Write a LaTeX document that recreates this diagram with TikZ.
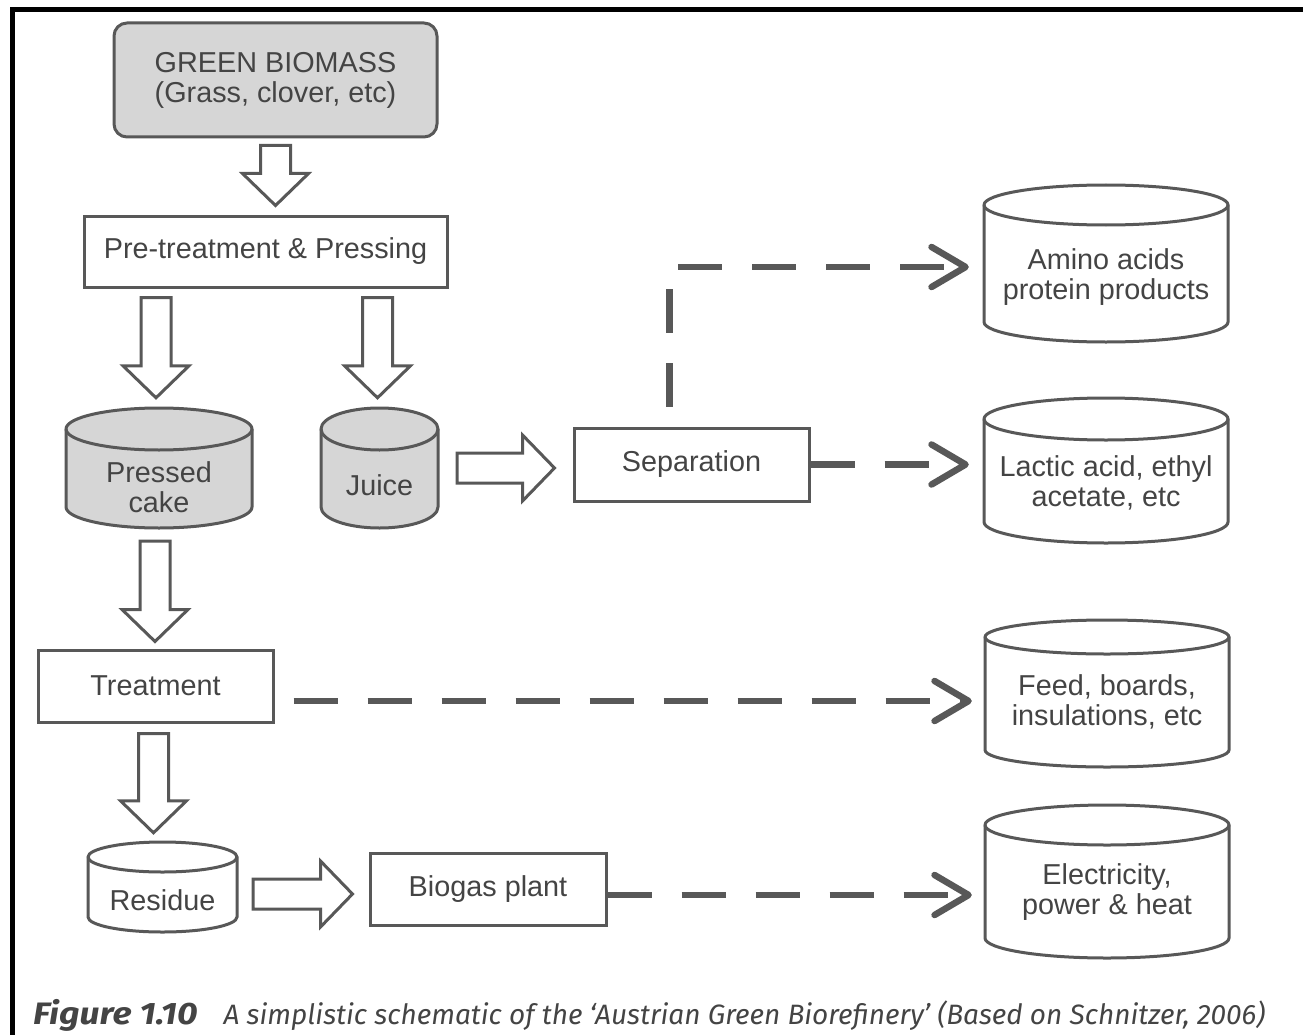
\documentclass[tikz,border=0pt]{standalone}
\usepackage{fontspec}
\setmainfont{Liberation Sans}
\newfontfamily\capfont{Fira Sans}
\usetikzlibrary{calc,arrows.meta}

\definecolor{lc}{HTML}{585858}
\definecolor{tc}{HTML}{444444}
\definecolor{shade}{HTML}{D6D6D6}

\tikzset{
  lbl/.style={text=tc, font=\fontsize{28.8}{30}\selectfont, align=center, inner sep=0pt},
  procbox/.style={lbl, draw=lc, line width=3pt},
  drumline/.style={draw=lc, line width=3pt},
  blockarrow/.style={draw=lc, line width=3pt, line join=miter, to path={
    let \p1=(\tikztostart), \p2=(\tikztotarget),
        \n1={atan2(\y2-\y1,\x2-\x1)}, \n2={veclen(\x2-\x1,\y2-\y1)} in
    {[shift={(\p1)}, rotate=\n1]
      (0pt,-15pt) -- ({\n2-32pt},-15pt) -- ({\n2-32pt},-33pt) -- (\n2,0pt)
      -- ({\n2-32pt},33pt) -- ({\n2-32pt},15pt) -- (0pt,15pt) -- cycle}
  }},
  dashline/.style={draw=lc, line width=6.8pt, dash pattern=on 44pt off 30pt,
    -{Straight Barb[length=34pt, width=40pt, line width=6.5pt, round]}}
}

% storage drum: name, left, right, top, bottom, ellipse radius, fill, label y, label
\newcommand\drum[9]{%
  \pgfmathsetmacro\dcx{(#2+#3)/2}%
  \pgfmathsetmacro\drx{(#3-#2)/2}%
  \pgfmathsetmacro\dkx{0.5523*\drx}%
  \pgfmathsetmacro\dky{0.5523*#6}%
  \pgfmathsetmacro\dyt{#4+#6}%
  \pgfmathsetmacro\dyb{#5-#6}%
  \filldraw[drumline, fill=#7] (#2,\dyt) -- (#2,\dyb)
    .. controls (#2,\dyb+\dky) and (\dcx-\dkx,#5) .. (\dcx,#5)
    .. controls (\dcx+\dkx,#5) and (#3,\dyb+\dky) .. (#3,\dyb)
    -- (#3,\dyt)
    .. controls (#3,\dyt-\dky) and (\dcx+\dkx,#4) .. (\dcx,#4)
    .. controls (\dcx-\dkx,#4) and (#2,\dyt-\dky) .. (#2,\dyt) -- cycle;
  \draw[drumline] (#2,\dyt)
    .. controls (#2,\dyt+\dky) and (\dcx-\dkx,\dyt+#6) .. (\dcx,\dyt+#6)
    .. controls (\dcx+\dkx,\dyt+#6) and (#3,\dyt+\dky) .. (#3,\dyt);
  \node[inner sep=0pt, minimum width={(#3-#2)*1pt}, minimum height={(#5-#4)*1pt}]
    (#1) at (\dcx,{(#4+#5)/2}) {};
  \node[lbl] (#1-text) at (\dcx,#8) {#9};
}

\begin{document}
\begin{tikzpicture}[x=1pt,y=-1pt]
\useasboundingbox (0,0) rectangle (1303,1035);
\fill[white] (0,0) rectangle (1303,1035);
% page frame rules
\fill[black] (10,7) rectangle (1303,12);
\fill[black] (10,7) rectangle (15,1035);

% process boxes
\node[procbox, rounded corners=13pt, fill=shade, minimum width=323pt, minimum height=114pt]
  (gb) at (275.5,80) {GREEN BIOMASS\\(Grass, clover, etc)};
\node[procbox, minimum width=363pt, minimum height=71pt] (pre) at (265.5,251.5) {Pre-treatment \& Pressing};
\node[procbox, minimum width=235pt, minimum height=73pt] (sep) at (691.5,464.5) {Separation};
\node[procbox, minimum width=235pt, minimum height=72pt] (treat) at (155.5,686) {Treatment};
\node[procbox, minimum width=236pt, minimum height=72pt] (biogas) at (488,889) {Biogas plant};

% intermediate and product drums
\drum{cake}{66}{252}{408}{528}{21}{shade}{487}{Pressed\\cake}
\drum{juice}{321}{438}{408}{528}{21}{shade}{485}{Juice}
\drum{residue}{88}{237}{842}{932}{15}{white}{900}{Residue}
\drum{amino}{984}{1228}{185}{342}{20}{white}{277}{Amino acids\\protein products}
\drum{lactic}{984}{1228}{398}{543}{21}{white}{483}{Lactic acid, ethyl\\acetate, etc}
\drum{feed}{985}{1229}{620}{767}{17}{white}{702}{Feed, boards,\\insulations, etc}
\drum{elec}{985}{1229}{805}{958}{20}{white}{892}{Electricity,\\power \& heat}

% material flow (hollow arrows)
\draw[blockarrow] ($(gb.south)+(0,7)$) to ($(gb.south |- pre.north)+(0,-9)$);
\draw[blockarrow] ($(pre.south -| cake.north)+(-3,9)$) to ($(cake.north)+(-3,-10)$);
\draw[blockarrow] ($(pre.south -| juice.north)+(-2,9)$) to ($(juice.north)+(-2,-10)$);
\draw[blockarrow] ($(juice.east)+(19,0)$) to ($(juice.east -| sep.west)+(-18,0)$);
\draw[blockarrow] ($(cake.south)+(-4,13)$) to ($(cake.south |- treat.north)+(-4,-7)$);
\draw[blockarrow] ($(treat.south)+(-2,10)$) to ($(treat.south |- residue.north)+(-2,-9)$);
\draw[blockarrow] ($(residue.east |- biogas.west)+(16,5)$) to ($(biogas.west)+(-16,5)$);

% product streams (dashed)
\coordinate (s1) at ($(sep.north)+(-22,-20)$);
\draw[dashline] (s1) |- ($(amino.west)+(-15,3.5)$);
\draw[dashline] (sep.east) -- ($(sep.east -| lactic.west)+(-15,0)$);
\coordinate (t1) at ($(treat.east)+(19,15)$);
\draw[dashline] (t1) -- ($(t1 -| feed.west)+(-13,0)$);
\coordinate (b1) at ($(biogas.east)+(0,6)$);
\draw[dashline] (b1) -- ($(b1 -| elec.west)+(-13,0)$);

% caption
\node[anchor=base west, inner sep=0pt, text=tc, font=\capfont\itshape]
  (cap) at (33,1024) {\scalebox{1.15}[1]{\fontsize{31}{31}\selectfont\bfseries Figure 1.10}\hspace{26pt}\fontsize{28}{28}\selectfont A simplistic schematic of the ‘Austrian Green Biorefinery’ (Based on Schnitzer, 2006)};
\end{tikzpicture}
\end{document}
